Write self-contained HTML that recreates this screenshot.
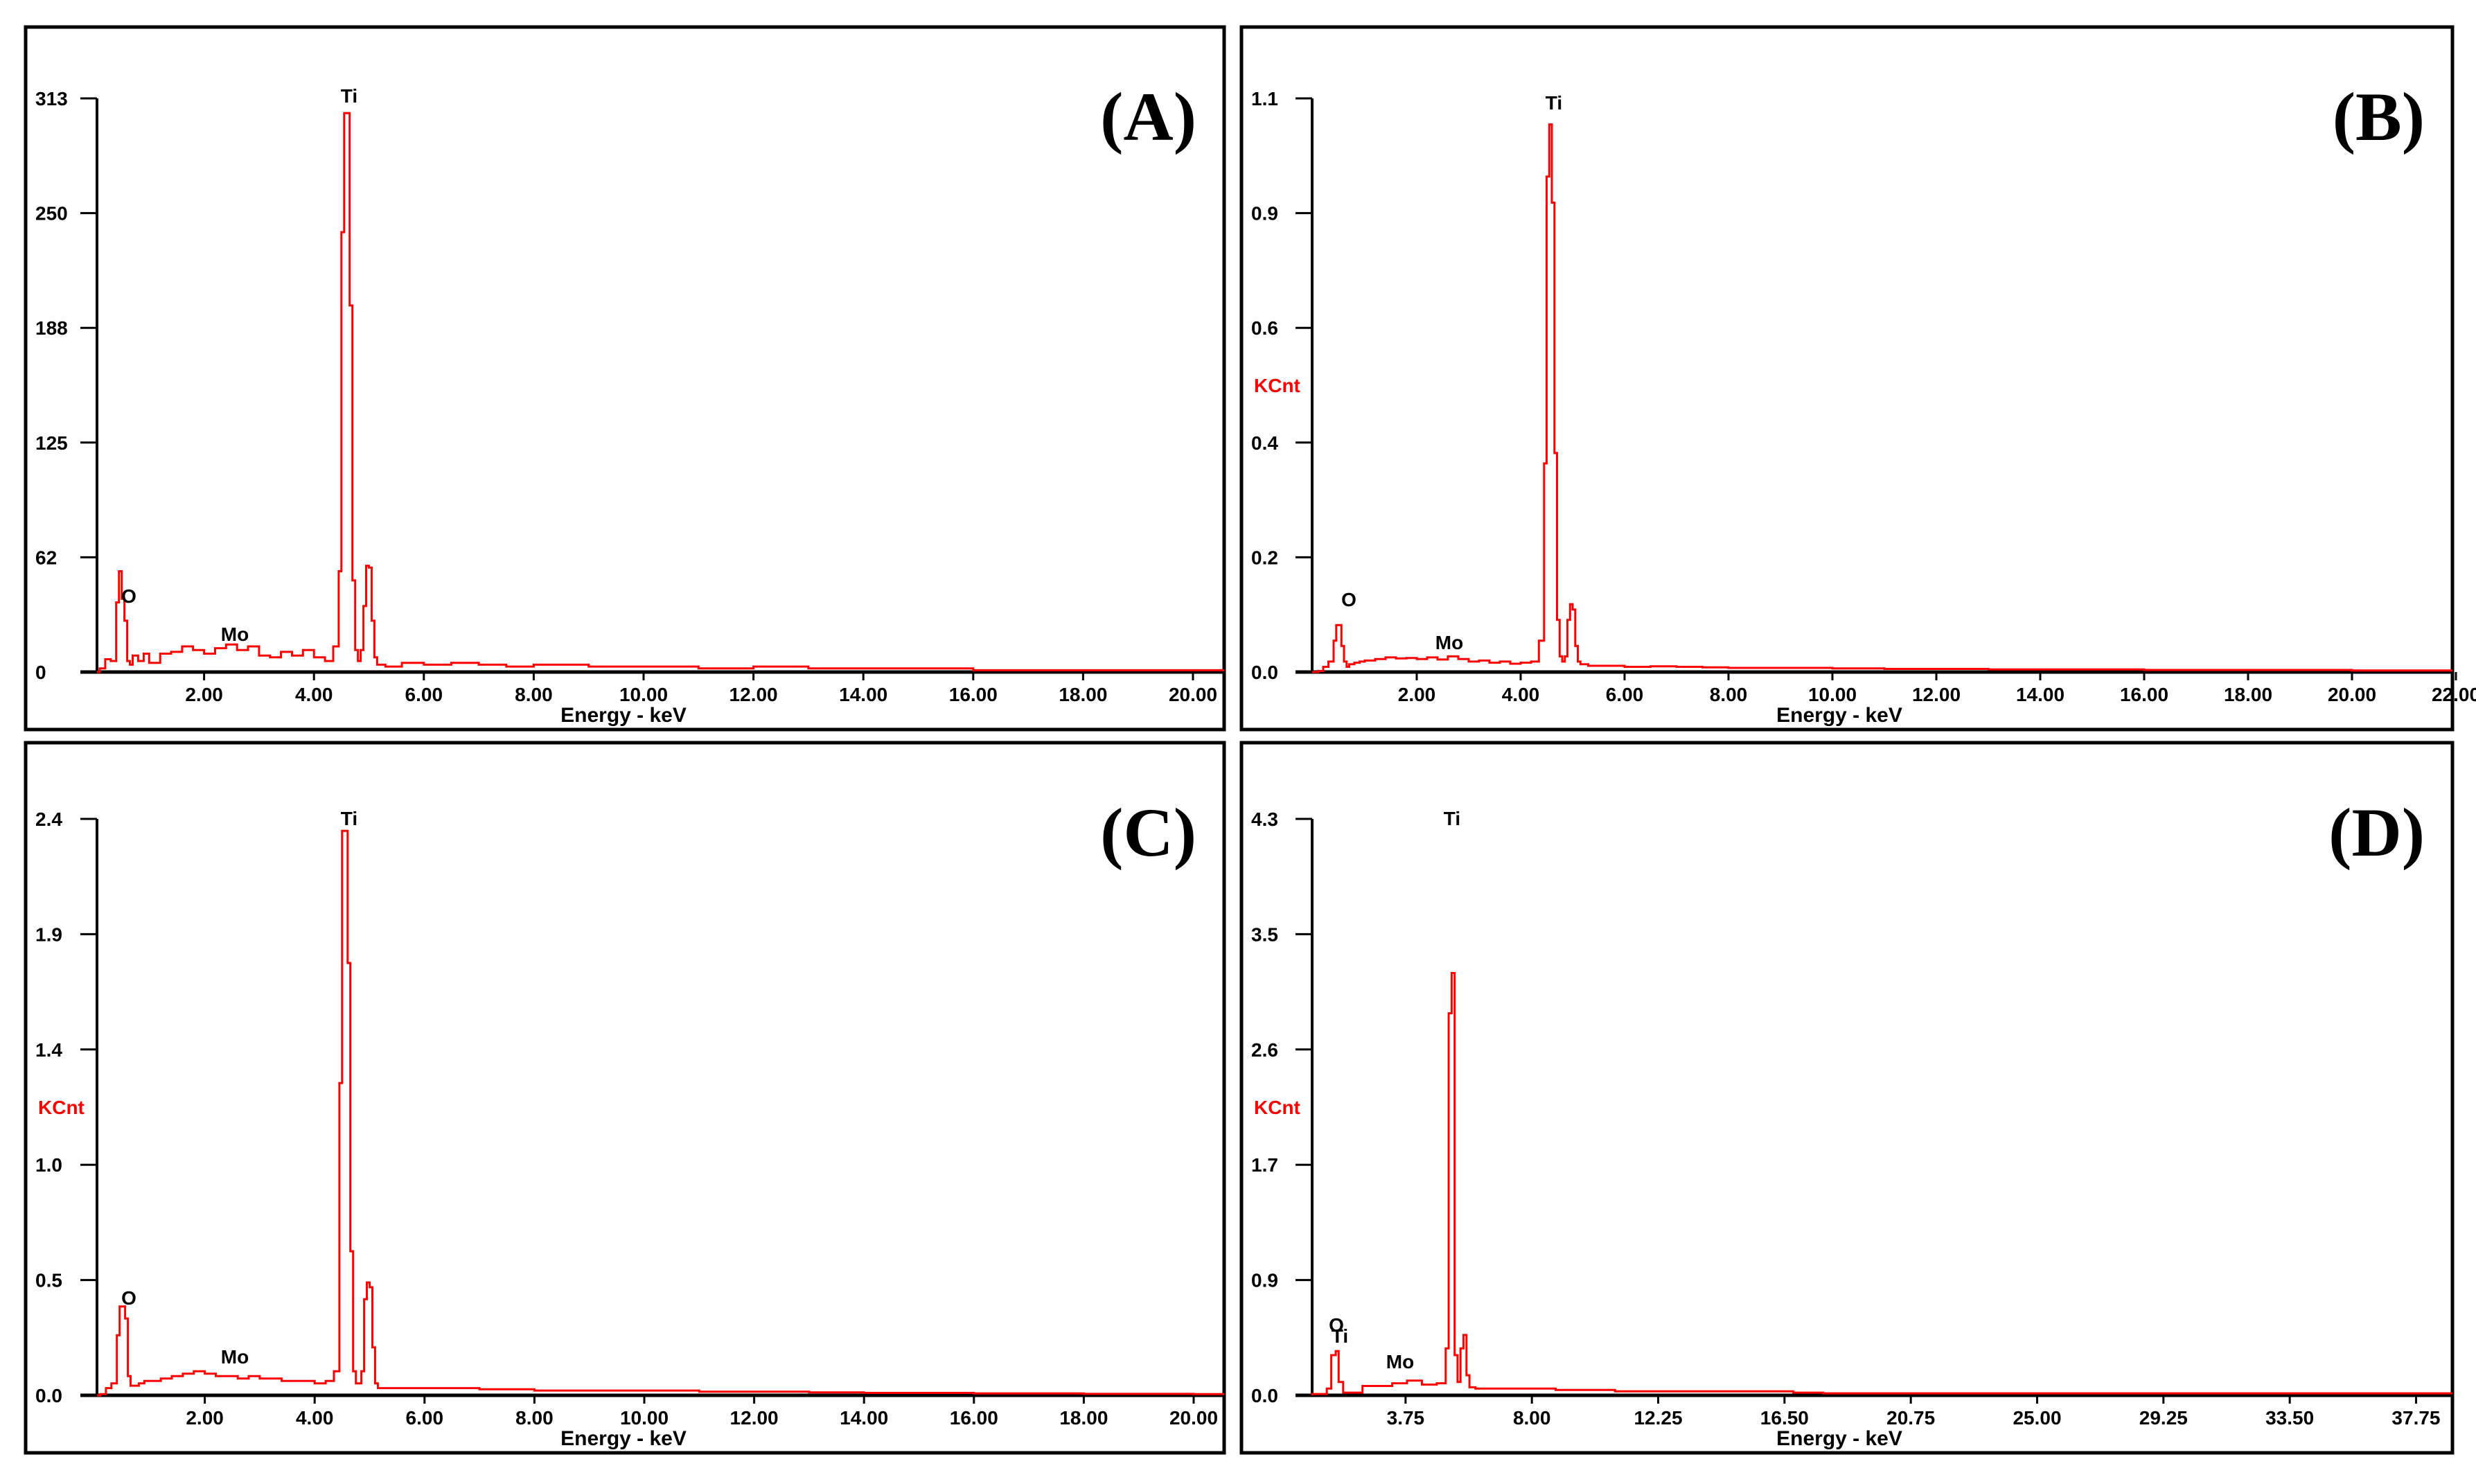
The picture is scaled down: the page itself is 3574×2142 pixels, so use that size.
<!DOCTYPE html>
<html><head><meta charset="utf-8"><style>
html,body{margin:0;padding:0;background:#fff;}
svg{display:block;}
text{font-family:"Liberation Sans",Arial,sans-serif;font-weight:bold;}
</style></head><body>
<svg id="fig" width="3574" height="2142" viewBox="0 0 3574 2142" xmlns="http://www.w3.org/2000/svg"></svg>
<script>
// shared energy grid (keV) for panels A, B, C
const gridABC = [0.1,0.2,0.3,0.4,0.45,0.5,0.55,0.6,0.65,0.7,0.8,0.9,1.0,1.2,1.4,1.6,1.8,2.0,2.2,2.4,2.6,2.8,3.0,3.2,3.4,3.6,3.8,4.0,4.2,4.35,4.45,4.5,4.55,4.6,4.65,4.7,4.75,4.8,4.85,4.9,4.95,5.0,5.05,5.1,5.15,5.3,5.6,6.0,6.5,7.0,7.5,8.0,9.0,10.0,11.0,12.0,13.0,14.0,15.0,16.0,18.0,20.0,22.0];
const countsA = [2,7,6,38,55,40,28,6,4,9,6,10,5,10,11,14,12,10,13,15,12,14,9,8,11,9,12,8,6,14,55,240,305,305,200,50,12,6,12,36,58,57,28,8,4,3,5,4,5,4,3,4,3,3,2,3,2,2,2,1,1,1,1];
const countsB = [0.002,0.01,0.02,0.06,0.09,0.09,0.05,0.02,0.01,0.015,0.018,0.02,0.022,0.025,0.028,0.026,0.027,0.025,0.028,0.024,0.03,0.025,0.02,0.022,0.018,0.02,0.016,0.018,0.02,0.06,0.4,0.95,1.05,0.9,0.42,0.1,0.03,0.02,0.03,0.1,0.13,0.12,0.05,0.02,0.015,0.012,0.012,0.01,0.011,0.01,0.009,0.008,0.008,0.007,0.006,0.006,0.005,0.005,0.005,0.004,0.004,0.003,0.003];
const countsC = [0.005,0.03,0.05,0.25,0.37,0.37,0.32,0.08,0.04,0.04,0.05,0.06,0.06,0.07,0.08,0.09,0.1,0.09,0.08,0.08,0.07,0.08,0.07,0.07,0.06,0.06,0.06,0.05,0.06,0.1,1.3,2.35,2.35,1.8,0.6,0.1,0.05,0.05,0.1,0.4,0.47,0.45,0.2,0.05,0.03,0.03,0.03,0.03,0.03,0.025,0.025,0.02,0.02,0.02,0.015,0.015,0.012,0.01,0.01,0.008,0.006,0.005,0.005];
// panel D energy grid (as read against its printed tick scale) and counts
const gridD = [0.6,1.1,1.25,1.4,1.5,1.65,2.3,3.3,3.8,4.3,4.8,5.1,5.2,5.3,5.4,5.5,5.6,5.7,5.8,5.9,6.1,6.8,8.8,9.8,10.8,12.8,14.8,16.8,17.8,20.8,30.8,40.8];
const countsD = [0.01,0.05,0.3,0.33,0.1,0.02,0.07,0.09,0.11,0.08,0.09,0.35,2.85,3.15,0.3,0.1,0.35,0.45,0.15,0.06,0.05,0.05,0.04,0.04,0.03,0.03,0.03,0.02,0.015,0.015,0.015,0.015];
// tick labels
const yTicksA = ["0","62","125","188","250","313"];
const yTicksB = ["0.0","0.2","0.4","0.6","0.9","1.1"];
const yTicksC = ["0.0","0.5","1.0","1.4","1.9","2.4"];
const yTicksD = ["0.0","0.9","1.7","2.6","3.5","4.3"];
const xTicksA = [2,4,6,8,10,12,14,16,18,20];
const xTicksB = [2,4,6,8,10,12,14,16,18,20,22];
const xTicksD = [3.75,8,12.25,16.5,20.75,25,29.25,33.5,37.75];
const yMaxA = 313, yMaxB = 1.1, yMaxC = 2.4, yMaxD = 4.3;

const NS = "http://www.w3.org/2000/svg";
const svg = document.getElementById('fig');
function mk(tag, attrs, parent){const e=document.createElementNS(NS,tag);for(const k in attrs)e.setAttribute(k,attrs[k]);(parent||svg).appendChild(e);return e;}

const panels = [
 {id:'a',letter:'(A)',fx:37,fy:39,fw:1730,fh:1014,ax:140,ox:136,ppk:79.3,yTop:142,y0:970,grid:gridABC,counts:countsA,yMax:yMaxA,yt:yTicksA,xt:xTicksA,dec:2,kcnt:false,
  labels:[['Ti',504,148],['O',186,870],['Mo',339,925]]},
 {id:'b',letter:'(B)',fx:1792,fy:39,fw:1748,fh:1014,ax:1894,ox:1895,ppk:75,yTop:142,y0:970,grid:gridABC,counts:countsB,yMax:yMaxB,yt:yTicksB,xt:xTicksB,dec:2,kcnt:true,
  labels:[['Ti',2243,158],['O',1947,875],['Mo',2092,937]]},
 {id:'c',letter:'(C)',fx:37,fy:1072,fw:1730,fh:1025,ax:140,ox:137,ppk:79.3,yTop:1182,y0:2014,grid:gridABC,counts:countsC,yMax:yMaxC,yt:yTicksC,xt:xTicksA,dec:2,kcnt:true,
  labels:[['Ti',504,1191],['O',186,1883],['Mo',339,1968]]},
 {id:'d',letter:'(D)',fx:1792,fy:1072,fw:1748,fh:1025,ax:1894,ox:1868,ppk:42.9,yTop:1182,y0:2014,grid:gridD,counts:countsD,yMax:yMaxD,yt:yTicksD,xt:xTicksD,dec:2,kcnt:true,
  labels:[['Ti',2096,1191],['O',1929,1922],['Ti',1934,1938],['Mo',2021,1975]]}
];

panels.forEach(p=>{
  const g = mk('g',{});
  
  
  const fr = mk('rect',{x:p.fx,y:p.fy,width:p.fw,height:p.fh,fill:'none',stroke:'#000','stroke-width':5},g);
  
  
  const right = p.fx+p.fw;
  const xs = e => p.ox + e*p.ppk;
  const ys = v => p.y0 - v/p.yMax*(p.y0-p.yTop);
  const yax = mk('line',{x1:p.ax,y1:p.yTop,x2:p.ax,y2:p.y0,stroke:'#000','stroke-width':4},g);
  
  
  p.yt.forEach((t,i)=>{
    const y = p.y0 - i/(p.yt.length-1)*(p.y0-p.yTop);
    const tk = mk('line',{x1:p.ax-24,y1:y,x2:p.ax,y2:y,stroke:'#000','stroke-width':3},g);
    
    
    const tx = mk('text',{x:p.fx+14,y:y+10,'font-size':28,fill:'#000'},g);
    tx.textContent=t;
    
    
  });
  const xax = mk('line',{x1:p.ax-24,y1:p.y0,x2:right,y2:p.y0,stroke:'#000','stroke-width':5},g);
  
  
  p.xt.forEach(v=>{
    const x = xs(v);
    const tk = mk('line',{x1:x,y1:p.y0,x2:x,y2:p.y0+12,stroke:'#000','stroke-width':3},g);
    
    
    const tx = mk('text',{x:x,y:p.y0+42,'font-size':28,'text-anchor':'middle',fill:'#000'},g);
    tx.textContent=v.toFixed(p.dec);
    
    
  });
  const xl = mk('text',{x:p.fx+863,y:p.y0+72,'font-size':30,'text-anchor':'middle',fill:'#000'},g);
  xl.textContent='Energy - keV';
  
  
  if(p.kcnt){
    const kc = mk('text',{x:p.fx+18,y:p.y0-(p.y0-p.yTop)*0.5+10,'font-size':28,fill:'#ff0000'},g);
    kc.textContent='KCnt';
    
    
  }
  let d = 'M'+p.ax+','+p.y0;
  let lastY = p.y0;
  for(let i=0;i<p.grid.length;i++){
    const x = Math.max(p.ax, Math.min(xs(p.grid[i]), right));
    const y = ys(p.counts[i]);
    d += ' L'+x.toFixed(1)+','+lastY.toFixed(1)+' L'+x.toFixed(1)+','+y.toFixed(1);
    lastY = y;
  }
  d += ' L'+right+','+lastY.toFixed(1);
  const sp = mk('path',{d:d,fill:'none',stroke:'#ff0000','stroke-width':3,'stroke-linejoin':'miter'},g);
  
  
  p.labels.forEach(l=>{
    const t = mk('text',{x:l[1],y:l[2],'font-size':28,'text-anchor':'middle',fill:'#000'},g);
    t.textContent=l[0];
    
    
  });
  const lt = mk('text',{x:right-40,y:p.fy+163,'font-size':100,'text-anchor':'end',fill:'#000'},g);
  lt.setAttribute('style','font-family:"Liberation Serif","Times New Roman",serif;font-weight:bold;');
  lt.textContent=p.letter;
  
  
});
</script>
</body></html>
